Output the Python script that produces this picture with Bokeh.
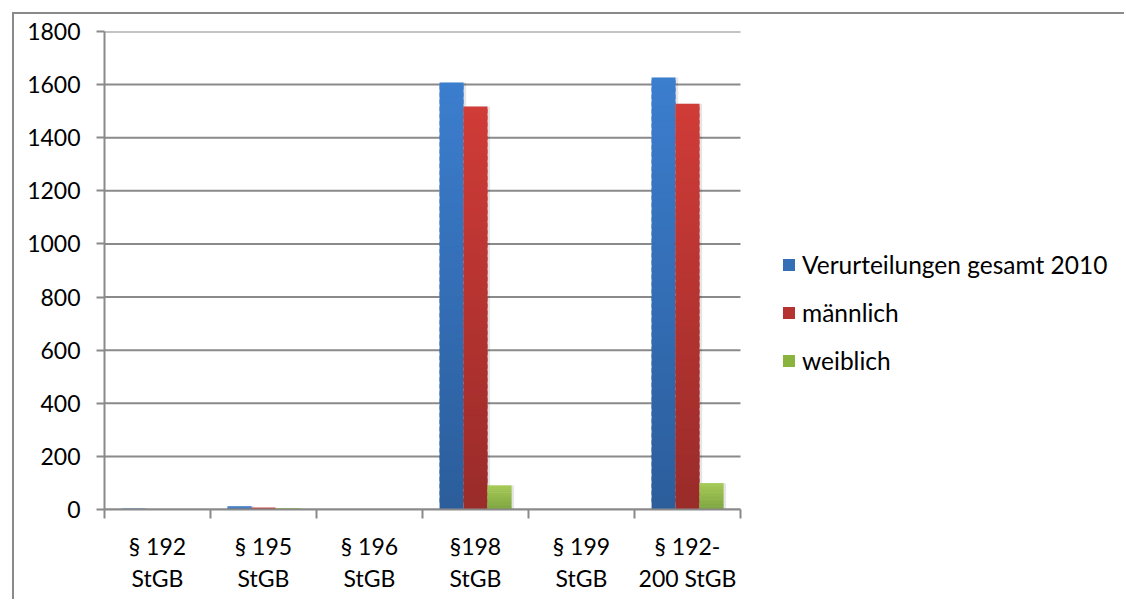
import numpy as np
from bokeh.plotting import figure
from bokeh.models import Range1d, FixedTicker, Legend, LegendItem, ColumnDataSource
from bokeh.embed import file_html
from bokeh.resources import INLINE

# Verurteilungen nach Paragraph, 2010
categories = ["§ 192\nStGB", "§ 195\nStGB", "§ 196\nStGB", "§198\nStGB", "§ 199\nStGB", "§ 192-\n200 StGB"]
gesamt = [3, 12, 2, 1608, 2, 1627]
maennlich = [2, 7, 1, 1518, 0, 1528]
weiblich = [1, 5, 1, 90, 2, 99]
series_labels = ["Verurteilungen gesamt 2010", "männlich", "weiblich"]
y_ticks = [0, 200, 400, 600, 800, 1000, 1200, 1400, 1600, 1800]

FONT = "Lato"
GREY = "#8a8a8a"
# (bottom colour, top colour) of the vertical gradient per series
gradients = [((44, 94, 156), (60, 126, 206)),
             ((154, 44, 42), (208, 60, 56)),
             ((118, 160, 52), (160, 200, 74))]

n_cat = len(categories)
PLOT_PX = 636          # width of the category area in pixels
FRAME_PX = 1022        # frame reaches the right edge so the legend fits beside the bars
x_end = n_cat * FRAME_PX / PLOT_PX

p = figure(width=1112, height=587, x_range=Range1d(0, x_end),
           y_range=Range1d(0, 1800), output_backend="svg", toolbar_location=None,
           min_border_left=90, min_border_right=0, min_border_top=17, min_border_bottom=92)
p.styles = {"margin-left": "12px", "margin-top": "12px",
            "border-left": f"2px solid {GREY}", "border-top": f"2px solid {GREY}"}
p.outline_line_color = None
p.background_fill_color = "white"
p.border_fill_color = "white"

# horizontal grid lines, only across the category area
p.xgrid.grid_line_color = None
p.ygrid.grid_line_color = None
p.segment(x0=[0] * len(y_ticks), x1=[n_cat] * len(y_ticks), y0=y_ticks, y1=y_ticks,
          line_color=GREY, line_width=2)

# y axis
p.yaxis.ticker = FixedTicker(ticks=y_ticks, minor_ticks=[])
p.yaxis.axis_line_color = GREY
p.yaxis.axis_line_width = 2
p.yaxis.major_tick_line_color = GREY
p.yaxis.major_tick_line_width = 2
p.yaxis.major_tick_out = 8
p.yaxis.major_tick_in = 0
p.yaxis.minor_tick_line_color = None
p.yaxis.major_label_standoff = 16
p.yaxis.major_label_text_font = FONT
p.yaxis.major_label_text_font_size = "23px"
p.yaxis.major_label_text_color = "black"

# x axis: labels at category centres, tick marks at category borders
centres = [i + 0.5 for i in range(n_cat)]
borders = [float(i) for i in range(n_cat + 1)]
p.xaxis.bounds = (0, n_cat)
p.xaxis.ticker = FixedTicker(ticks=centres, minor_ticks=borders)
p.xaxis.major_label_overrides = {c: lab for c, lab in zip(centres, categories)}
p.xaxis.axis_line_color = GREY
p.xaxis.axis_line_width = 2
p.xaxis.major_tick_line_color = None
p.xaxis.minor_tick_line_color = GREY
p.xaxis.minor_tick_line_width = 2
p.xaxis.minor_tick_out = 9
p.xaxis.minor_tick_in = 0
p.xaxis.major_label_standoff = 13
p.xaxis.major_label_text_font = FONT
p.xaxis.major_label_text_font_size = "23px"
p.xaxis.major_label_text_color = "black"
p.xaxis.major_label_text_line_height = 1.15

bar_w = 0.226
offsets = [-bar_w, 0.0, bar_w]
N = 60
series = [gesamt, maennlich, weiblich]

renderers = []
for values, off, (c0, c1) in zip(series, offsets, gradients):
    xs = [c + off for c in centres]
    # soft drop shadow
    p.vbar(x=[x + 0.025 for x in xs], width=bar_w, top=values, bottom=0,
           fill_color="#000000", fill_alpha=0.10, line_color=None)
    xx, bb, tt, cc = [], [], [], []
    for x, v in zip(xs, values):
        for k in range(N):
            t = k / (N - 1)
            r = int(c0[0] + (c1[0] - c0[0]) * t)
            g = int(c0[1] + (c1[1] - c0[1]) * t)
            b = int(c0[2] + (c1[2] - c0[2]) * t)
            xx.append(x)
            bb.append(v * k / N)
            tt.append(min(v, v * (k + 1.6) / N))
            cc.append(f"#{r:02x}{g:02x}{b:02x}")
    src = ColumnDataSource(dict(x=xx, bottom=bb, top=tt, color=cc))
    r_ = p.vbar(x="x", width=bar_w, bottom="bottom", top="top", source=src,
                fill_color="color", line_color=None)
    renderers.append(r_)

items = [LegendItem(label=lab, renderers=[r_], index=3 * N + N // 2)
         for lab, r_ in zip(series_labels, renderers)]
legend = Legend(items=items, location=(677, 134), orientation="vertical",
                glyph_width=15, glyph_height=15, label_height=24, spacing=19,
                label_standoff=6, padding=0, margin=0,
                border_line_color=None, background_fill_alpha=0,
                label_text_font=FONT, label_text_font_size="24.5px",
                label_text_color="black")
p.add_layout(legend, "center")

open("out.html", "w").write(file_html(p, INLINE))
